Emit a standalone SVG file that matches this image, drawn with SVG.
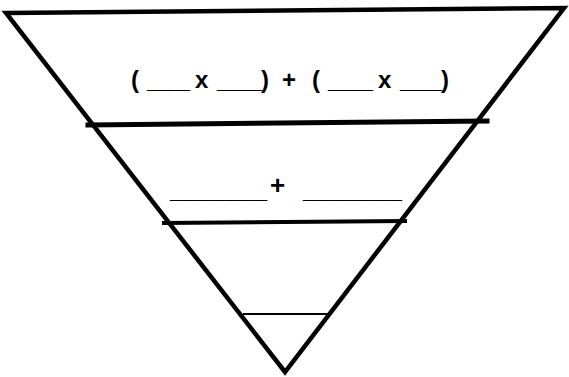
<svg xmlns="http://www.w3.org/2000/svg" width="569" height="377" viewBox="0 0 569 377">
<style>
.o{fill:none;stroke:#000;stroke-linejoin:miter;stroke-linecap:square}
.t{font-family:"Liberation Sans",Arial,sans-serif;fill:#000}
</style>
<rect width="569" height="377" fill="#fff"/>
<g id="triangle">
<polygon class="o" points="6,13 564,8 285,372" stroke-width="4.5"/>
</g>
<g id="connectors">
<line class="o" x1="88" y1="125" x2="487" y2="121" stroke-width="5"/>
<line class="o" x1="164" y1="223" x2="405" y2="221" stroke-width="4"/>
<line class="o" x1="244" y1="314" x2="327" y2="314" stroke-width="2"/>
</g>
<g id="top-level">
<text class="t" font-size="24" font-weight="bold" y="88"><tspan x="131">(</tspan><tspan x="147" textLength="43" lengthAdjust="spacingAndGlyphs">___</tspan><tspan x="195">x</tspan><tspan x="217" textLength="45" lengthAdjust="spacingAndGlyphs">___</tspan><tspan x="261">)</tspan><tspan x="282">+</tspan><tspan x="312">(</tspan><tspan x="328" textLength="45" lengthAdjust="spacingAndGlyphs">___</tspan><tspan x="378">x</tspan><tspan x="400" textLength="42" lengthAdjust="spacingAndGlyphs">___</tspan><tspan x="441">)</tspan></text>
</g>
<g id="middle-level">
<text class="t" font-weight="bold"><tspan x="170" y="198" font-size="26" textLength="97" lengthAdjust="spacingAndGlyphs">_______</tspan><tspan x="270" y="194" font-size="26">+</tspan><tspan x="303" y="198" font-size="26" textLength="99" lengthAdjust="spacingAndGlyphs">_______</tspan></text>
</g>
</svg>
